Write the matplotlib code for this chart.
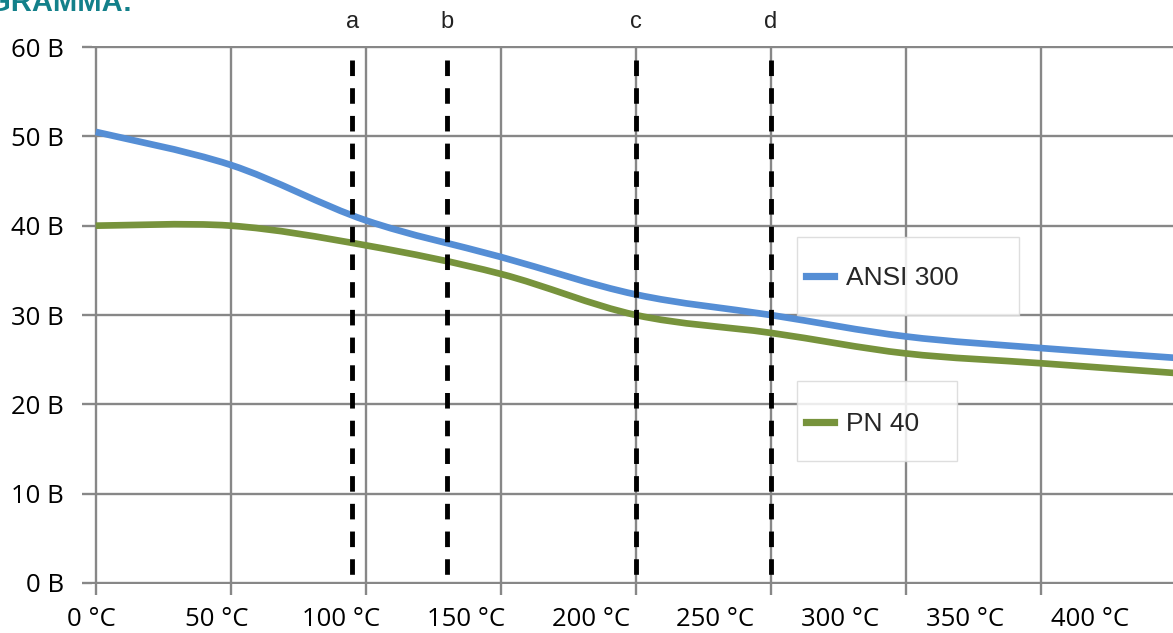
import matplotlib
matplotlib.use("Agg")
import matplotlib.pyplot as plt
import numpy as np
from matplotlib.path import Path
from matplotlib.patches import PathPatch, Rectangle
from matplotlib.lines import Line2D

# data
temps = [0, 50, 100, 150, 200, 250, 300, 350, 400]
ansi_300 = [50.5, 46.8, 40.6, 36.5, 32.3, 30.0, 27.6, 26.3, 25.2]
pn_40 = [40.0, 40.0, 37.8, 34.6, 30.0, 28.0, 25.7, 24.6, 23.5]
x_labels = ["0 °C", "50 °C", "100 °C", "150 °C", "200 °C", "250 °C", "300 °C", "350 °C", "400 °C"]
y_ticks = [0, 10, 20, 30, 40, 50, 60]
marker_names = ["a", "b", "c", "d"]
marker_temps = [95, 130, 200, 250]

W, H = 1173, 633
GRID = "#878787"
BLUE = "#558ED5"
GREEN = "#77933C"


def smooth_path(xs, ys):
    """ excel-like smoothed line as bezier path """
    p = np.column_stack([xs, ys]).astype(float)
    ext = np.vstack([p[0], p, p[-1]])
    verts = [p[0]]
    codes = [Path.MOVETO]
    for i in range(len(p) - 1):
        c1 = ext[i + 1] + (ext[i + 2] - ext[i]) / 6
        c2 = ext[i + 2] - (ext[i + 3] - ext[i + 1]) / 6
        verts += [c1, c2, p[i + 1]]
        codes += [Path.CURVE4] * 3
    return Path(verts, codes)


fig = plt.figure(figsize=(W / 100, H / 100), dpi=100)

# pixel layout: 0 °C at x=93, 50 °C step = 135.36 px; 0 B at y=583, 10 B step = 89.33 px
xpx, ypx = 135.36 / 50, 89.33 / 10
xlim = (-0.5, 400.0)
ylim = (-0.15, 60.15)
left = 93 + xlim[0] * xpx
right = 93 + xlim[1] * xpx
bottom = 583 - ylim[0] * ypx
top = 583 - ylim[1] * ypx
ax = fig.add_axes([left / W, (H - bottom) / H, (right - left) / W, (bottom - top) / H])
ax.set_xlim(*xlim)
ax.set_ylim(*ylim)
for s in ax.spines.values():
    s.set_visible(False)
ax.set_axisbelow(True)

# grid + ticks
ax.set_yticks(y_ticks)
ax.set_yticklabels([f"{v} B" for v in y_ticks], fontsize=18.5, family="Open Sans")
ax.set_xticks(temps, minor=True)
label_x = np.arange(len(x_labels)) * 46.2 - 1.5   # labels sit slightly off the grid in the original
ax.set_xticks(label_x)
ax.set_xticklabels(x_labels, fontsize=18.5, family="Open Sans")
ax.grid(axis="y", which="major", color=GRID, lw=1.7)
ax.grid(axis="x", which="minor", color=GRID, lw=1.7)
ax.grid(axis="x", which="major", visible=False)
ax.tick_params(axis="y", length=7, width=1.7, color=GRID, pad=13)
ax.tick_params(axis="x", which="minor", length=8, width=1.7, color=GRID)
ax.tick_params(axis="x", which="major", length=0, pad=16)

# curves
ax.add_patch(PathPatch(smooth_path(temps, ansi_300), facecolor="none", edgecolor=BLUE, lw=4.8, zorder=3))
ax.add_patch(PathPatch(smooth_path(temps, pn_40), facecolor="none", edgecolor=GREEN, lw=4.8, zorder=3))

# dashed markers a-d
for name, t in zip(marker_names, marker_temps):
    ax.plot([t, t], [58.6, 0], color="black", lw=3.5, linestyle=(0, (3.2, 2.5)),
            dash_capstyle="butt", zorder=4)
    ax.text(t, 62.1, name, ha="center", va="baseline", fontsize=17,
            family="Liberation Sans", color="#222222", clip_on=False)

# legends in two separate boxes, like the original
def legend_box(x0, y0, x1, y1):
    fig.patches.append(Rectangle((x0 / W, 1 - y1 / H), (x1 - x0) / W, (y1 - y0) / H,
                                 transform=fig.transFigure, facecolor="white", alpha=0.85,
                                 edgecolor="#d9d9d9", lw=1.0, zorder=5))

legend_box(797, 237, 1019, 315)
legend_box(797, 381, 957, 461)

for label, color, ymid in [("ANSI 300", BLUE, 278), ("PN 40", GREEN, 424)]:
    leg = fig.legend([Line2D([], [], color=color, lw=5.2)], [label], loc="center left",
                     bbox_to_anchor=(806 / W, 1 - ymid / H), frameon=False,
                     borderpad=0, borderaxespad=0, handlelength=1.06, handletextpad=0.45,
                     prop={"family": "Liberation Sans", "size": 19})
    leg.set_zorder(6)
    for t in leg.get_texts():
        t.set_color("#262626")

# cropped heading at the top
fig.text(132 / W, 1 - 11 / H, "DIAGRAMMA:", ha="right", va="baseline", fontsize=21,
         weight="bold", family="Liberation Sans", color="#13808A")

fig.savefig("out.png", dpi=100)
